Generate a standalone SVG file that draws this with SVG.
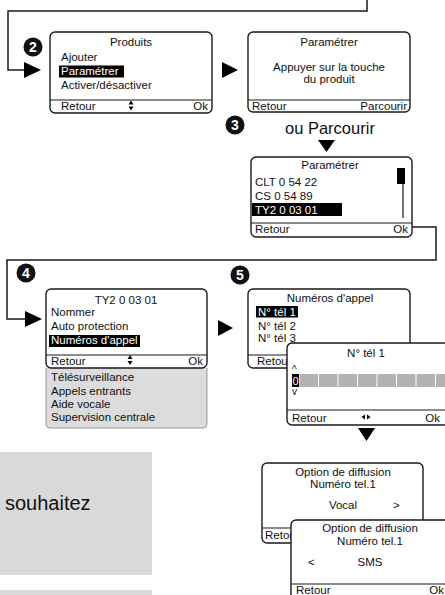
<svg xmlns="http://www.w3.org/2000/svg" width="445" height="595" viewBox="0 0 445 595">
<style>
text{font-family:"Liberation Sans",Arial,sans-serif;font-size:11.5px;fill:#111}
.box{fill:#fff;stroke:#1a1a1a;stroke-width:1.4}
.div{stroke:#1a1a1a;stroke-width:1.2}
.c{text-anchor:middle}
.e{text-anchor:end}
.w{fill:#fff}
.hl{fill:#000}
.con{fill:none;stroke:#1a1a1a;stroke-width:1.5}
.tri{fill:#000}
.num circle{fill:#111}
.num text{fill:#fff;font-weight:bold;font-size:14px;text-anchor:middle}
.panel{fill:#d9d9d9}
.cell{fill:#b3b3b3}
</style>

<g id="panels">
<rect class="panel" x="0" y="452" width="152" height="123"/>
<text x="5" y="510" style="font-size:20px">souhaitez</text>
<rect class="panel" x="0" y="590" width="152" height="5"/>
</g>

<g id="connectors">
<path class="con" d="M367,0 V11 H8 V70 H26"/>
<polygon class="tri" points="24,62 24,78 41,70"/>
<polygon class="tri" points="222,62 222,78 238,70"/>
<polygon class="tri" points="318,140 335,140 326.5,152"/>
<path class="con" d="M412,227 H436 V260 H7 V319 H26"/>
<polygon class="tri" points="25,311 25,327 42,319"/>
<polygon class="tri" points="218,320 218,336 233,328"/>
<polygon class="tri" points="358,428 375,428 366.5,441"/>
</g>

<g id="n2" class="num"><circle cx="33" cy="47" r="9.5"/><text x="33" y="52">2</text></g>
<g id="n3" class="num"><circle cx="235" cy="125" r="9.5"/><text x="235" y="130">3</text></g>
<g id="n4" class="num"><circle cx="26" cy="273" r="9.5"/><text x="26" y="278">4</text></g>
<g id="n5" class="num"><circle cx="240" cy="275" r="9.5"/><text x="240" y="280">5</text></g>

<g id="produits">
<rect class="box" x="50" y="32" width="162" height="81" rx="5"/>
<text class="c" x="131" y="46">Produits</text>
<text x="61" y="61">Ajouter</text>
<rect class="hl" x="59" y="65.5" width="65" height="12"/>
<text class="w" x="61" y="75">Paramétrer</text>
<text x="61" y="89">Activer/désactiver</text>
<line class="div" x1="50" y1="100" x2="212" y2="100"/>
<text x="61" y="110">Retour</text>
<polygon points="128.5,104.5 133.5,104.5 131,100.5"/>
<polygon points="128.5,106.5 133.5,106.5 131,110.5"/>
<text class="e" x="208" y="110">Ok</text>
</g>

<g id="parametrer1">
<rect class="box" x="248" y="32" width="162" height="80" rx="5"/>
<text class="c" x="329" y="46">Paramétrer</text>
<text class="c" x="329" y="71">Appuyer sur la touche</text>
<text class="c" x="329" y="83">du produit</text>
<line class="div" x1="248" y1="100" x2="410" y2="100"/>
<text x="252" y="110">Retour</text>
<text class="e" x="407" y="110">Parcourir</text>
</g>

<g id="ouparcourir">
<text x="285" y="134" style="font-size:16.5px">ou Parcourir</text>
</g>

<g id="parametrer2">
<rect class="box" x="251" y="157" width="161" height="80" rx="5"/>
<text class="c" x="330" y="169">Paramétrer</text>
<text x="255" y="186">CLT 0 54 22</text>
<text x="255" y="200">CS 0 54 89</text>
<rect class="hl" x="252" y="203" width="90" height="13"/>
<text class="w" x="255" y="213.5">TY2 0 03 01</text>
<rect class="hl" x="397" y="168" width="8" height="16"/>
<line class="div" x1="403" y1="184" x2="403" y2="218"/>
<line class="div" x1="251" y1="223" x2="412" y2="223"/>
<text x="255" y="233">Retour</text>
<text class="e" x="408" y="233">Ok</text>
</g>

<g id="ty2">
<path d="M46,368 V424 Q46,428 50,428 H203 Q207,428 207,424 V368" fill="#dcdcdc" stroke="#9a9a9a" stroke-width="1"/>
<rect class="box" x="46" y="289" width="161" height="79" rx="5"/>
<text class="c" x="126" y="304">TY2 0 03 01</text>
<text x="51" y="316">Nommer</text>
<text x="51" y="330">Auto protection</text>
<rect class="hl" x="49" y="335" width="91" height="12"/>
<text class="w" x="51" y="344">Numéros d'appel</text>
<line class="div" x1="46" y1="355" x2="207" y2="355"/>
<text x="51" y="364.5">Retour</text>
<polygon points="127.5,359 132.5,359 130,355"/>
<polygon points="127.5,361 132.5,361 130,365"/>
<text class="e" x="203" y="364.5">Ok</text>
<text x="51" y="380.5">Télésurveillance</text>
<text x="51" y="395">Appels entrants</text>
<text x="51" y="408">Aide vocale</text>
<text x="51" y="420.5">Supervision centrale</text>
</g>

<g id="numeros">
<rect class="box" x="248" y="289" width="162" height="79" rx="5"/>
<text class="c" x="330" y="302">Numéros d'appel</text>
<rect class="hl" x="256" y="306" width="42" height="11.5"/>
<text class="w" x="258" y="316">N° tél 1</text>
<text x="258" y="330">N° tél 2</text>
<text x="258" y="342">N° tél 3</text>
<line class="div" x1="248" y1="355" x2="410" y2="355"/>
<text x="257" y="364.5">Retour</text>
</g>

<g id="tel1">
<rect class="box" x="287" y="343" width="162" height="82" rx="5"/>
<text class="c" x="366" y="357">N° tél 1</text>
<text x="292" y="373" style="font-size:10px">^</text>
<rect class="hl" x="292" y="374" width="7" height="13"/>
<text class="w" x="292.5" y="385" style="font-size:11px">0</text>
<rect class="cell" x="299.5" y="374" width="18.5" height="13"/>
<rect class="cell" x="319" y="374" width="18.5" height="13"/>
<rect class="cell" x="338.5" y="374" width="18.5" height="13"/>
<rect class="cell" x="358" y="374" width="18.5" height="13"/>
<rect class="cell" x="377.5" y="374" width="18.5" height="13"/>
<rect class="cell" x="397" y="374" width="18.5" height="13"/>
<rect class="cell" x="416.5" y="374" width="18.5" height="13"/>
<rect class="cell" x="436" y="374" width="18.5" height="13"/>
<text x="292" y="395" style="font-size:10px">v</text>
<line class="div" x1="287" y1="410" x2="449" y2="410"/>
<text x="292" y="422">Retour</text>
<polygon points="365,414.5 365,419.5 361.5,417"/>
<polygon points="367,414.5 367,419.5 370.5,417"/>
<text class="e" x="440" y="422">Ok</text>
</g>

<g id="vocal">
<rect class="box" x="262" y="463" width="161" height="80" rx="5"/>
<text class="c" x="343" y="475.5">Option de diffusion</text>
<text class="c" x="343" y="488">Numéro tel.1</text>
<text class="c" x="343" y="508.5">Vocal</text>
<text x="393" y="508.5">&gt;</text>
<line class="div" x1="262" y1="528" x2="423" y2="528"/>
<text x="265" y="539">Retour</text>
</g>

<g id="sms">
<rect class="box" x="291" y="520" width="162" height="84" rx="5"/>
<text class="c" x="370" y="532">Option de diffusion</text>
<text class="c" x="370" y="545">Numéro tel.1</text>
<text x="308" y="565.5">&lt;</text>
<text class="c" x="370" y="565.5">SMS</text>
<line class="div" x1="291" y1="584" x2="453" y2="584"/>
<text x="296" y="593.5">Retour</text>
<text class="e" x="444" y="593.5">Ok</text>
</g>
</svg>
